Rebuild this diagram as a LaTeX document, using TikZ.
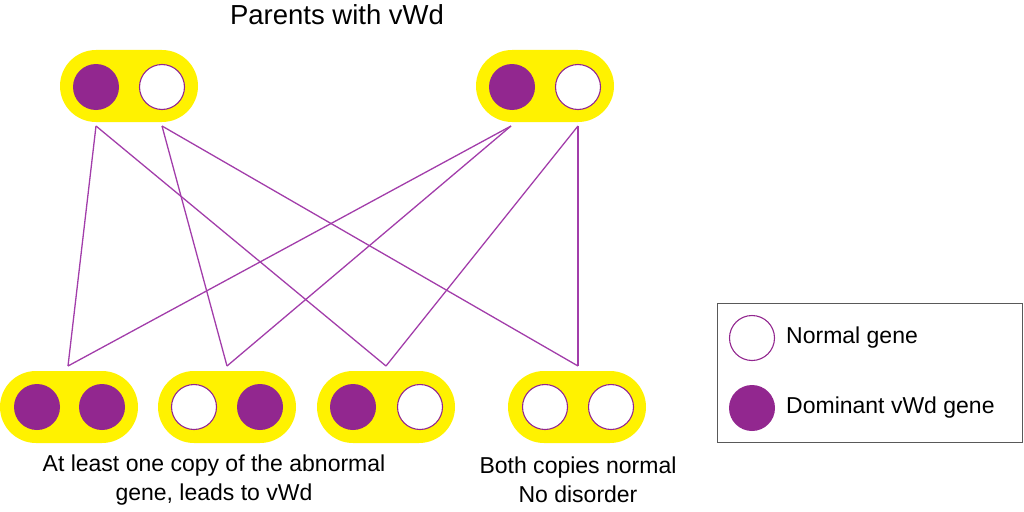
\documentclass[tikz,border=0pt]{standalone}
\usepackage{fontspec}
\setmainfont{Liberation Sans}
\definecolor{pyellow}{HTML}{FFF200}
\definecolor{gpurple}{HTML}{92278F}
\definecolor{lpurple}{HTML}{A23DAA}
\begin{document}
\begin{tikzpicture}[x=1pt,y=-1pt,
  pill/.style={fill=pyellow, draw=none, rounded corners=36pt, minimum width=138pt, minimum height=72pt, inner sep=0pt},
  domg/.style={circle, fill=gpurple, draw=none, minimum size=46pt, inner sep=0pt},
  normg/.style={circle, fill=white, draw=gpurple, line width=1.1pt, minimum size=45pt, inner sep=0pt},
  link/.style={draw=lpurple, line width=1.3pt},
  lbl/.style={font=\fontsize{23}{29}\selectfont, align=center, inner sep=0pt}]
\useasboundingbox (0,0) rectangle (1024,511);
% title
\node[font=\fontsize{27.5}{32}\selectfont, inner sep=0pt] (title) at (337,15) {Parents with vWd};
% parents
\node[pill] (P1) at (129,86) {};
\node[domg] (P1a) at (96,87) {};
\node[normg] (P1b) at (162,87) {};
\node[pill] (P2) at (545,86) {};
\node[domg] (P2a) at (512,87) {};
\node[normg] (P2b) at (578,87) {};
% children
\node[pill] (C1) at (69,407) {};
\node[domg] (C1a) at (37,407) {};
\node[domg] (C1b) at (102,407) {};
\node[pill] (C2) at (227,407) {};
\node[normg] (C2a) at (194,407) {};
\node[domg] (C2b) at (260,407) {};
\node[pill] (C3) at (386,407) {};
\node[domg] (C3a) at (353,407) {};
\node[normg] (C3b) at (420,407) {};
\node[pill] (C4) at (577,407) {};
\node[normg] (C4a) at (545,407) {};
\node[normg] (C4b) at (611,407) {};
% connector end points
\coordinate (o1a) at (96,126);
\coordinate (o1b) at (162,126);
\coordinate (o2a) at (511,126);
\coordinate (o2b) at (578,126);
\coordinate (i1) at (68,366);
\coordinate (i2) at (227,366);
\coordinate (i3) at (386,366);
\coordinate (i4) at (578,366);
\draw[link] (o1a) -- (i1);
\draw[link] (o1a) -- (i3);
\draw[link] (o1b) -- (i2);
\draw[link] (o1b) -- (i4);
\draw[link] (o2a) -- (i1);
\draw[link] (o2a) -- (i2);
\draw[link] (o2b) -- (i3);
\draw[link] (o2b) -- (i4);
% captions
\node[lbl] (cap1) at (214,480) {At least one copy of the abnormal\\gene, leads to vWd};
\node[lbl] (cap2) at (578,480) {Both copies normal\\No disorder};
% legend
\node[draw=gray!70!black, line width=0.6pt, minimum width=305pt, minimum height=139pt, inner sep=0pt] (legend) at (869.5,372.5) {};
\node[normg] (Ln) at (752,338) {};
\node[domg] (Ld) at (752,408) {};
\node[lbl, anchor=west] (Lnt) at (786,338) {Normal gene};
\node[lbl, anchor=west] (Ldt) at (786,408) {Dominant vWd gene};
\end{tikzpicture}
\end{document}
